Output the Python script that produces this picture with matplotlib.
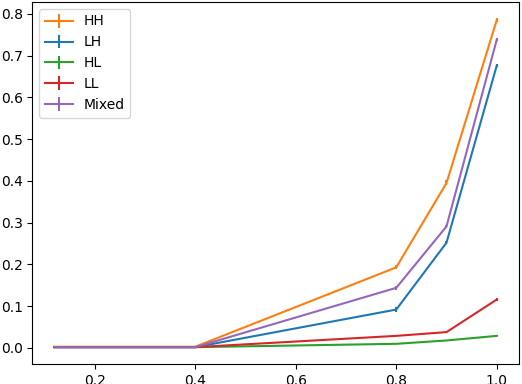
import matplotlib
matplotlib.use("Agg")
import matplotlib.pyplot as plt

# Données
x = [0.12, 0.4, 0.8, 0.9, 1.0]
hh = [0.003, 0.003, 0.193, 0.395, 0.785]
lh = [0.002, 0.002, 0.092, 0.252, 0.676]
hl = [0.002, 0.002, 0.010, 0.018, 0.029]
ll = [0.002, 0.002, 0.029, 0.038, 0.116]
mixed = [0.002, 0.002, 0.144, 0.291, 0.738]
err_hh = [0.001, 0.001, 0.005, 0.006, 0.004]
err_lh = [0.001, 0.001, 0.005, 0.004, 0.003]
err_hl = [0.0005, 0.0005, 0.001, 0.001, 0.001]
err_ll = [0.0005, 0.0005, 0.001, 0.002, 0.003]
err_mixed = [0.001, 0.001, 0.004, 0.004, 0.003]

series = [
	("HH", hh, err_hh, "C1"),
	("LH", lh, err_lh, "C0"),
	("HL", hl, err_hl, "C2"),
	("LL", ll, err_ll, "C3"),
	("Mixed", mixed, err_mixed, "C4"),
]

fig, ax = plt.subplots(figsize=(5.22, 3.84), dpi=100)
for label, y, err, color in series:
	ax.errorbar(x, y, yerr=err, label=label, color=color)

ax.legend(loc="upper left")
fig.subplots_adjust(left=0.062, right=0.994, top=0.995, bottom=0.052)
fig.savefig("out.png", dpi=100)
